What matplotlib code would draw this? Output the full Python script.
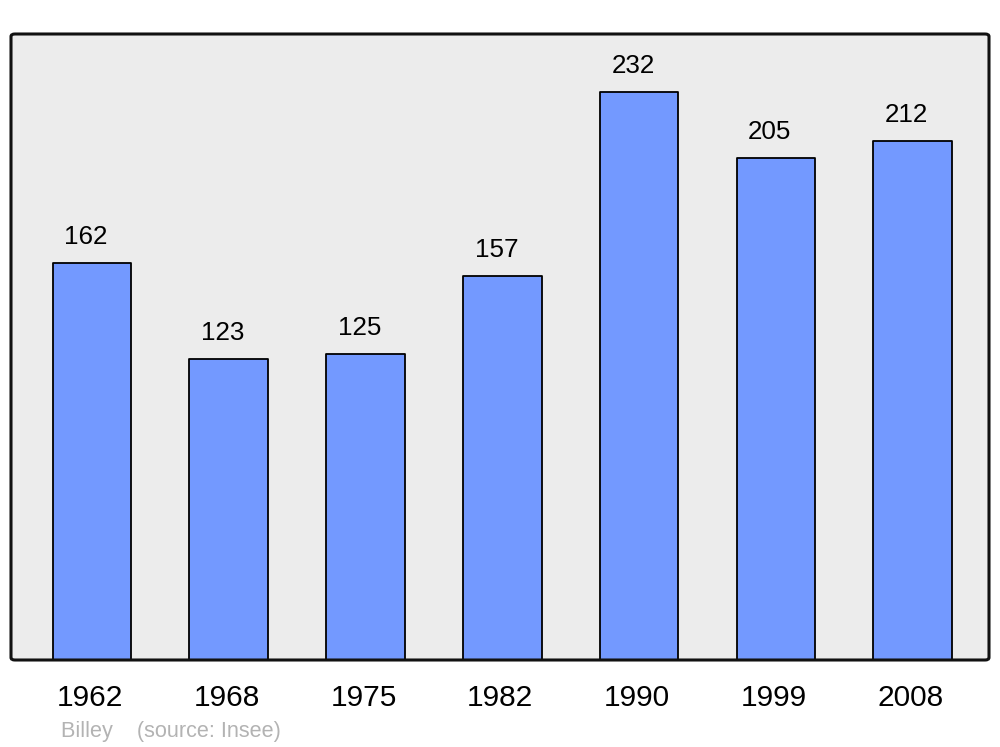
import matplotlib
matplotlib.use("Agg")
import matplotlib.pyplot as plt
import matplotlib.transforms as mtransforms
from matplotlib.patches import FancyBboxPatch

years = ["1962", "1968", "1975", "1982", "1990", "1999", "2008"]
population = [162, 123, 125, 157, 232, 205, 212]
footer = "Billey    (source: Insee)"

plt.rcParams['font.family'] = ['Liberation Sans', 'DejaVu Sans']

fig = plt.figure(figsize=(10, 7.47), dpi=100)
ax = fig.add_axes([0.011, (747 - 660) / 747, 0.978, 626 / 747])
ax.set_facecolor('#ececec')

x = list(range(len(years)))
bars = ax.bar(x, population, width=0.575, color='#7399ff', edgecolor='black',
              linewidth=1.3, zorder=2)
for b in bars:
    b.set_joinstyle('round')

ax.set_xlim(-0.592, 6.558)
ax.set_ylim(0, 255.7)

for xi, v in zip(x, population):
    ax.annotate(str(v), (xi, v), xytext=(-6, 26), textcoords='offset pixels',
                ha='center', va='center', fontsize=18.7)

ax.set_xticks(x)
ax.set_xticklabels(years, fontsize=21.5)
ax.tick_params(axis='x', length=0, pad=17)
shift = mtransforms.ScaledTranslation(-2 / 100, 0, fig.dpi_scale_trans)
for t in ax.get_xticklabels():
    t.set_transform(t.get_transform() + shift)
ax.set_yticks([])

for s in ax.spines.values():
    s.set_visible(False)
frame = FancyBboxPatch((0, 0), 1, 1, boxstyle='round,pad=0,rounding_size=0.004',
                       transform=ax.transAxes, fill=False, edgecolor='#111111',
                       linewidth=2.2, zorder=5, clip_on=False)
ax.add_patch(frame)

fig.text(0.061, (747 - 731) / 747, footer, fontsize=15.6, color='#b3b3b3',
         ha='left', va='center')

fig.savefig('out.png', dpi=100)
